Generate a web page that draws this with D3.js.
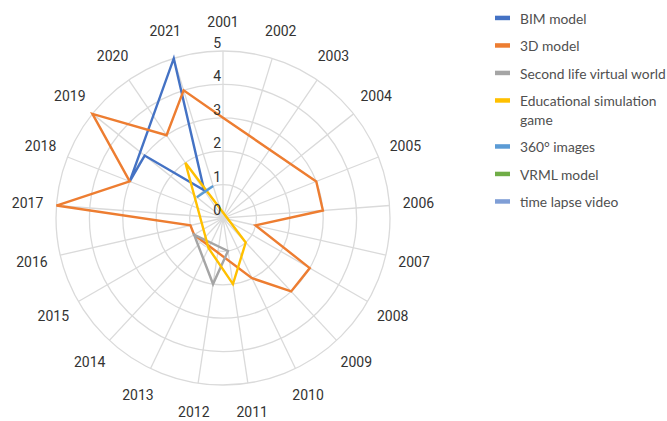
<!DOCTYPE html>
<html>
<head>
<meta charset="utf-8">
<script src="https://cdn.jsdelivr.net/npm/d3@7"></script>
<style>
  html, body { margin: 0; padding: 0; background: #fff; }
  svg { display: block; }
</style>
</head>
<body>
<svg id="chart" width="667" height="421"></svg>
<script>
// ---- data ----
const years = ["2001","2002","2003","2004","2005","2006","2007","2008","2009","2010",
               "2011","2012","2013","2014","2015","2016","2017","2018","2019","2020","2021"];
const tickValues = [0, 1, 2, 3, 4, 5];
const seriesNames = ["BIM model", "3D model", "Second life virtual world",
                     "Educational simulation game", "360° images", "VRML model", "time lapse video"];
const seriesColors = ["#4472C4", "#ED7D31", "#A5A5A5", "#FFC000", "#5B9BD5", "#70AD47", "#7F9ED6"];
//                   01    02    03    04    05    06    07    08    09    10    11    12    13    14    15    16    17    18    19    20    21
const bimModel   = [null, null, null, null, null, null, null, null, null, null, null, null, null, null, null, null, null, 3,    3,    1,    5];
const model3D    = [3,    null, null, null, 3,    3,    1,    3,    3,    2,    null, null, null, null, 1,    1,    5,    3,    5,    3,    4];
const secondLife = [null, null, null, null, null, null, null, null, null, null, 1,    2,    null, null, 1,    null, null, null, null, null, null];
const eduGame    = [null, null, null, null, null, null, null, null, 1,    null, 2,    null, 1,    null, null, null, null, null, null, 2,    null];
const images360  = [null, null, null, null, null, null, null, null, null, null, null, null, null, null, null, null, null, null, 1,    null, 1];
const vrmlModel  = [null, null, null, null, null, null, null, null, null, null, null, null, null, null, null, null, null, null, null, null, null];
const timeLapse  = [null, null, null, null, null, null, null, null, null, null, null, null, null, null, null, null, null, null, null, null, null];
const seriesValues = [bimModel, model3D, secondLife, eduGame, images360, vrmlModel, timeLapse];

// ---- layout ----
const svg = d3.select("#chart");
const cx = 223, cy = 218, R = 167;
const r = d3.scaleLinear().domain([0, 5]).range([0, R]);
const ang = d3.scaleLinear().domain([0, years.length]).range([0, 2 * Math.PI]);
const g = svg.append("g").attr("transform", `translate(${cx},${cy})`);

// grid circles
g.selectAll("circle.grid").data(tickValues.filter(v => v > 0)).join("circle")
  .attr("class", "grid").attr("r", d => r(d))
  .attr("fill", "none").attr("stroke", "#DADADA").attr("stroke-width", 1.3);

// spokes
g.selectAll("line.spoke").data(years).join("line")
  .attr("class", "spoke")
  .attr("x1", 0).attr("y1", 0)
  .attr("x2", (d, i) => r(5) * Math.sin(ang(i)))
  .attr("y2", (d, i) => -r(5) * Math.cos(ang(i)))
  .attr("stroke", "#DADADA").attr("stroke-width", 1.3);

// category labels
g.selectAll("text.cat").data(years).join("text")
  .attr("class", "cat")
  .attr("x", (d, i) => (R + 29) * Math.sin(ang(i)))
  .attr("y", (d, i) => -(R + 29) * Math.cos(ang(i)))
  .attr("text-anchor", "middle").attr("dominant-baseline", "central")
  .attr("font-family", "Roboto, sans-serif").attr("font-size", 14).attr("fill", "#333")
  .text(d => d);

// series
const line = d3.lineRadial()
  .angle(d => ang(d.i))
  .radius(d => r(d.v))
  .curve(d3.curveLinearClosed);

seriesValues.forEach((vals, s) => {
  const pts = vals.map((v, i) => ({ i, v })).filter(d => d.v !== null);
  if (pts.length < 2) return;
  g.append("path")
    .attr("d", line(pts))
    .attr("fill", "none")
    .attr("stroke", seriesColors[s])
    .attr("stroke-width", 2.4)
    .attr("stroke-linejoin", "miter");
});

// tick labels
g.selectAll("text.tick").data(tickValues).join("text")
  .attr("class", "tick")
  .attr("x", -2)
  .attr("y", d => -r(d) - 8)
  .attr("text-anchor", "end").attr("dominant-baseline", "central")
  .attr("font-family", "Roboto, sans-serif").attr("font-size", 14).attr("fill", "#333")
  .text(d => d);

// legend
const legend = svg.append("g");
const maxW = 152;
let yPos = 17.7;
seriesNames.forEach((name, i) => {
  const row = legend.append("g");
  row.append("rect").attr("x", 495).attr("y", yPos - 2).attr("width", 15).attr("height", 4.5)
    .attr("fill", seriesColors[i]);
  const txt = row.append("text")
    .attr("x", 520).attr("y", yPos)
    .attr("dominant-baseline", "central")
    .attr("font-family", "Lato, sans-serif").attr("font-size", 13.8).attr("fill", "#505050");
  const words = name.split(" ");
  let lineWords = [];
  let tspan = txt.append("tspan").attr("x", 520).attr("dy", 0);
  let lines = 1;
  words.forEach(w => {
    lineWords.push(w);
    tspan.text(lineWords.join(" "));
    if (tspan.node().getComputedTextLength() > maxW && lineWords.length > 1) {
      lineWords.pop();
      tspan.text(lineWords.join(" "));
      lineWords = [w];
      tspan = txt.append("tspan").attr("x", 520).attr("dy", 18.5).text(w);
      lines++;
    }
  });
  yPos += 27.5 + (lines - 1) * 18.5;
});
</script>
</body>
</html>
